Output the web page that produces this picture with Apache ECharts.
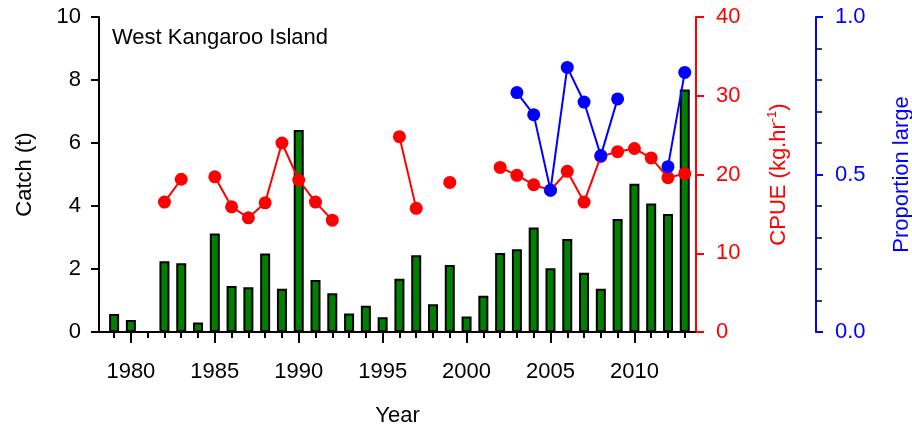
<!DOCTYPE html>
<html>
<head>
<meta charset="utf-8">
<script src="https://cdn.jsdelivr.net/npm/echarts@6/dist/echarts.min.js"></script>
<style>
  html, body { margin: 0; padding: 0; background: #fff; }
  #chart { width: 912px; height: 428px; }
</style>
</head>
<body>
<div id="chart"></div>
<script>
// data
const years = [];
for (let y = 1979; y <= 2013; y++) years.push(y);

const catchT = [0.57, 0.38, null, 2.25, 2.18, 0.30, 3.13, 1.46, 1.42, 2.49,
  1.37, 6.41, 1.65, 1.23, 0.59, 0.83, 0.47, 1.69, 2.44, 0.88,
  2.13, 0.49, 1.15, 2.51, 2.63, 3.32, 2.02, 2.95, 1.88, 1.37,
  3.59, 4.71, 4.08, 3.75, 7.70];

const cpue = [null, null, null, 16.5, 19.4, null, 19.7, 15.9, 14.5, 16.4,
  24.0, 19.3, 16.5, 14.2, null, null, null, 24.8, 15.7, null,
  19.0, null, null, 20.9, 19.9, 18.7, 18.0, 20.4, 16.5, 22.3,
  22.9, 23.3, 22.1, 19.6, 20.1];

const propLarge = [null, null, null, null, null, null, null, null, null, null,
  null, null, null, null, null, null, null, null, null, null,
  null, null, null, null, 0.76, 0.69, 0.45, 0.84, 0.73, 0.56,
  0.74, null, null, 0.525, 0.824];

const majorYears = [1980, 1985, 1990, 1995, 2000, 2005, 2010];

const font = 'Liberation Sans, Arial, sans-serif';
const fs = 22;
const pairs = arr => years.map((y, i) => [y, arr[i] == null ? '-' : arr[i]]);

const chart = echarts.init(document.getElementById('chart'));

chart.setOption({
  animation: false,
  textStyle: { fontFamily: font },
  title: {
    text: 'West Kangaroo Island',
    left: 112, top: 27, padding: 0,
    textStyle: { fontSize: fs, fontWeight: 'normal', color: '#000', fontFamily: font }
  },
  grid: { left: 99, right: 216, top: 17, bottom: 96, containLabel: false, outerBoundsMode: 'none' },
  xAxis: [
    {
      type: 'value', min: 1978.1, max: 2013.67,
      name: 'Year', nameLocation: 'middle', nameGap: 73,
      nameTextStyle: { fontSize: fs, color: '#000' },
      axisLine: { lineStyle: { color: '#000', width: 2 } },
      axisTick: { customValues: majorYears, length: 11, lineStyle: { color: '#000', width: 2 } },
      axisLabel: { customValues: majorYears, fontSize: fs, color: '#000', margin: 29, formatter: v => String(v) },
      splitLine: { show: false }
    },
    {
      // minor year ticks
      type: 'value', min: 1978.1, max: 2013.67, position: 'bottom',
      axisLine: { show: false },
      axisTick: { customValues: years, length: 6, lineStyle: { color: '#000', width: 2 } },
      axisLabel: { show: false },
      splitLine: { show: false }
    },
    {
      // top frame line
      type: 'value', min: 1978.1, max: 2013.67, position: 'top',
      axisLine: { lineStyle: { color: '#000', width: 2 } },
      axisTick: { show: false }, axisLabel: { show: false }, splitLine: { show: false }
    }
  ],
  yAxis: [
    {
      type: 'value', min: 0, max: 10, interval: 2,
      name: 'Catch (t)', nameLocation: 'middle', nameGap: 63, nameRotate: 90,
      nameTextStyle: { fontSize: fs, color: '#000' },
      axisLine: { show: true, lineStyle: { color: '#000', width: 2 } },
      axisTick: { show: true, length: 8, lineStyle: { color: '#000', width: 2 } },
      axisLabel: { fontSize: fs, color: '#000', margin: 18 },
      splitLine: { show: false }
    },
    {
      type: 'value', min: 0, max: 40, interval: 10, position: 'right',
      name: 'CPUE (kg.hr{sup|-1})', nameLocation: 'middle', nameGap: 70, nameRotate: 90,
      nameTextStyle: {
        fontSize: fs, color: '#ff0000', lineHeight: 26,
        rich: { sup: { fontSize: 13, lineHeight: 14, color: '#ff0000', verticalAlign: 'top' } }
      },
      axisLine: { show: true, lineStyle: { color: '#ff0000', width: 2 } },
      axisTick: { show: true, length: 8, lineStyle: { color: '#ff0000', width: 2 } },
      axisLabel: { fontSize: fs, color: '#ff0000', margin: 20 },
      splitLine: { show: false }
    },
    {
      type: 'value', min: 0, max: 1, interval: 0.5, position: 'right', offset: 120,
      name: 'Proportion large', nameLocation: 'middle', nameGap: 75, nameRotate: 90,
      nameTextStyle: { fontSize: fs, color: '#0000ff' },
      axisLine: { show: true, lineStyle: { color: '#0000ff', width: 2 } },
      axisTick: { show: true, length: 7, lineStyle: { color: '#0000ff', width: 2 } },
      minorTick: { show: true, splitNumber: 5, length: 6, lineStyle: { color: '#000', width: 1.5 } },
      axisLabel: { fontSize: fs, color: '#0000ff', margin: 19, formatter: v => v.toFixed(1) },
      splitLine: { show: false }
    }
  ],
  series: [
    {
      name: 'Catch', type: 'bar', xAxisIndex: 0, yAxisIndex: 0,
      barWidth: 10,
      itemStyle: { color: '#008000', borderColor: '#000', borderWidth: 2 },
      data: years.map((y, i) => [y, catchT[i]]).filter(d => d[1] != null)
    },
    {
      name: 'CPUE', type: 'line', xAxisIndex: 0, yAxisIndex: 1,
      symbol: 'circle', symbolSize: 13, showAllSymbol: true, connectNulls: false,
      itemStyle: { color: '#ff0000' },
      lineStyle: { color: '#ff0000', width: 2 },
      data: pairs(cpue)
    },
    {
      name: 'Proportion large', type: 'line', xAxisIndex: 0, yAxisIndex: 2,
      symbol: 'circle', symbolSize: 13, showAllSymbol: true, connectNulls: false,
      itemStyle: { color: '#0000ff' },
      lineStyle: { color: '#0000ff', width: 2 },
      data: pairs(propLarge)
    }
  ]
});
</script>
</body>
</html>
